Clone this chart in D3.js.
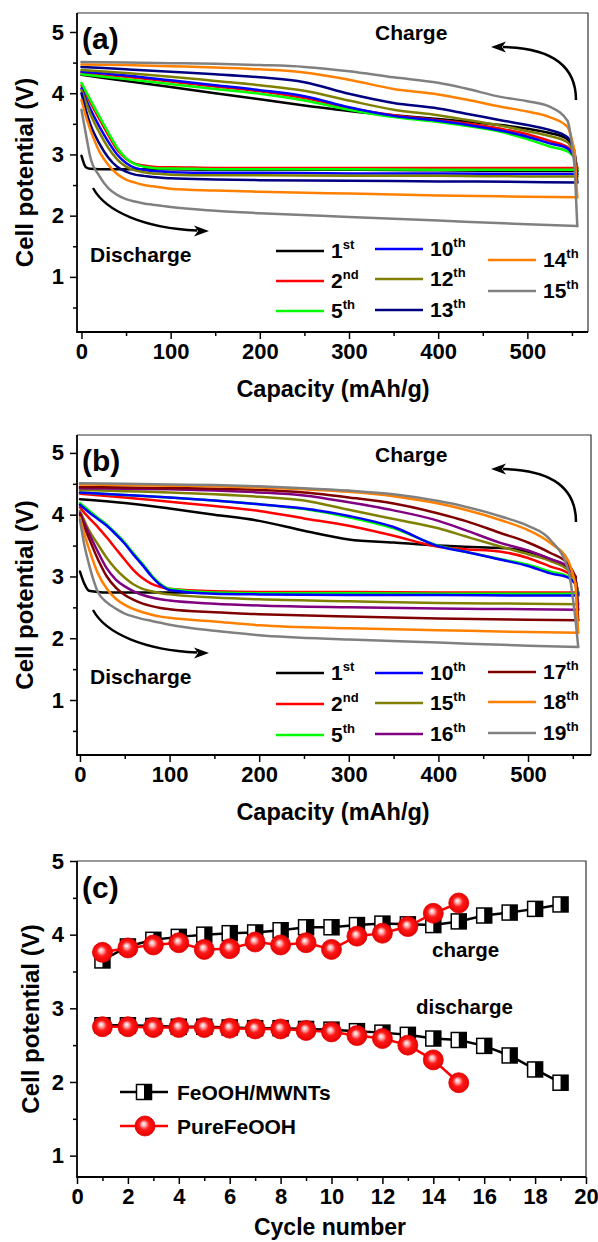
<!DOCTYPE html>
<html><head><meta charset="utf-8">
<script src="https://cdn.jsdelivr.net/npm/d3@7/dist/d3.min.js"></script>
<style>
body{margin:0;background:#fff}
svg{display:block}
</style>
</head><body>
<script>
// ---------------- DATA ----------------
// capacity grids (mAh/g)
const capDischarge = [0,5,10,20,30,40,50,60,70,80,90,100,150,200,300,400,500,556];
const capCharge = [553,545,525,500,470,430,400,350,300,250,200,150,100,50,0];

// panel (a)
const cyclesA = ["1st","2nd","5th","10th","12th","13th","14th","15th"];
const dischargeA = [
  [2.98,2.79,2.765,2.76,2.76,2.76,2.76,2.76,2.76,2.76,2.76,2.76,2.75,2.75,2.75,2.74,2.73,2.73],
  [4.13,3.99,3.85,3.58,3.32,3.08,2.93,2.85,2.82,2.80,2.79,2.79,2.78,2.78,2.78,2.78,2.78,2.78],
  [4.17,4.03,3.89,3.62,3.36,3.11,2.94,2.84,2.80,2.78,2.77,2.77,2.76,2.76,2.76,2.75,2.75,2.75],
  [4.08,3.90,3.74,3.46,3.21,3.00,2.86,2.78,2.75,2.73,2.72,2.71,2.70,2.70,2.69,2.69,2.68,2.68],
  [4.05,3.85,3.66,3.36,3.11,2.92,2.80,2.74,2.71,2.69,2.68,2.67,2.66,2.66,2.65,2.65,2.64,2.64],
  [4.00,3.72,3.49,3.18,2.95,2.80,2.72,2.67,2.65,2.63,2.62,2.61,2.59,2.58,2.57,2.56,2.55,2.54],
  [3.89,3.62,3.40,3.05,2.83,2.68,2.59,2.54,2.50,2.48,2.46,2.44,2.41,2.39,2.36,2.33,2.31,2.30],
  [3.73,3.33,2.95,2.65,2.45,2.34,2.27,2.23,2.20,2.18,2.16,2.14,2.08,2.04,1.98,1.92,1.86,1.83]
];
const chargeA = [
  [3.00,3.25,3.35,3.42,3.48,3.54,3.58,3.64,3.71,3.80,3.90,4.00,4.10,4.20,4.30],
  [2.98,3.12,3.22,3.33,3.42,3.51,3.56,3.64,3.76,3.92,4.03,4.11,4.19,4.27,4.34],
  [2.95,3.05,3.13,3.25,3.37,3.47,3.53,3.61,3.73,3.88,3.99,4.07,4.15,4.23,4.31],
  [2.95,3.10,3.18,3.29,3.39,3.49,3.55,3.63,3.77,3.95,4.05,4.13,4.21,4.29,4.35],
  [3.00,3.20,3.30,3.38,3.47,3.57,3.64,3.73,3.88,4.04,4.13,4.20,4.27,4.33,4.38],
  [3.05,3.28,3.40,3.48,3.56,3.67,3.75,3.84,3.99,4.18,4.26,4.31,4.35,4.39,4.43],
  [3.05,3.45,3.61,3.70,3.78,3.90,3.98,4.07,4.22,4.34,4.39,4.42,4.44,4.46,4.47],
  [2.80,3.55,3.78,3.87,3.94,4.08,4.17,4.26,4.36,4.43,4.46,4.48,4.49,4.50,4.51]
];

// panel (b)
const cyclesB = ["1st","2nd","5th","10th","15th","16th","17th","18th","19th"];
const dischargeB = [
  [3.08,2.88,2.77,2.75,2.74,2.74,2.74,2.74,2.74,2.74,2.74,2.74,2.74,2.73,2.73,2.73,2.72,2.72],
  [4.12,4.03,3.95,3.80,3.63,3.45,3.27,3.10,2.97,2.88,2.83,2.80,2.76,2.75,2.75,2.74,2.74,2.74],
  [4.19,4.13,4.07,3.95,3.84,3.70,3.55,3.37,3.20,3.02,2.88,2.80,2.74,2.73,2.73,2.72,2.72,2.72],
  [4.16,4.10,4.04,3.93,3.82,3.68,3.53,3.35,3.18,3.00,2.86,2.78,2.72,2.71,2.70,2.70,2.69,2.69],
  [4.06,3.90,3.75,3.52,3.30,3.12,2.98,2.87,2.80,2.76,2.73,2.71,2.66,2.63,2.60,2.57,2.56,2.55],
  [4.03,3.86,3.70,3.40,3.13,2.95,2.84,2.76,2.70,2.66,2.63,2.61,2.56,2.53,2.50,2.48,2.47,2.46],
  [4.00,3.80,3.62,3.28,3.00,2.82,2.70,2.62,2.56,2.52,2.49,2.47,2.42,2.39,2.35,2.32,2.30,2.29],
  [3.95,3.68,3.45,3.05,2.80,2.64,2.54,2.47,2.42,2.38,2.35,2.33,2.27,2.21,2.16,2.13,2.10,2.09],
  [3.92,3.50,3.20,2.75,2.58,2.48,2.40,2.35,2.31,2.28,2.25,2.22,2.12,2.05,1.98,1.93,1.88,1.86]
];
const chargeB = [
  [2.95,3.12,3.28,3.40,3.46,3.48,3.50,3.55,3.60,3.74,3.90,4.00,4.10,4.19,4.25],
  [2.92,3.05,3.16,3.30,3.40,3.44,3.48,3.66,3.82,3.94,4.06,4.14,4.21,4.28,4.34],
  [2.90,3.00,3.08,3.19,3.28,3.40,3.50,3.78,3.96,4.09,4.17,4.23,4.28,4.32,4.36],
  [2.88,2.98,3.05,3.17,3.27,3.40,3.49,3.80,3.98,4.10,4.17,4.23,4.28,4.32,4.36],
  [2.95,3.10,3.25,3.36,3.48,3.65,3.78,3.93,4.08,4.23,4.29,4.33,4.36,4.38,4.40],
  [2.98,3.15,3.28,3.42,3.54,3.75,3.90,4.07,4.20,4.31,4.36,4.39,4.41,4.42,4.43],
  [3.00,3.20,3.38,3.55,3.70,3.90,4.02,4.18,4.28,4.36,4.40,4.42,4.43,4.44,4.45],
  [2.88,3.25,3.54,3.75,3.91,4.08,4.18,4.30,4.37,4.41,4.44,4.46,4.47,4.48,4.49],
  [2.30,3.10,3.59,3.82,3.97,4.13,4.22,4.33,4.39,4.43,4.46,4.48,4.49,4.50,4.51]
];

// panel (c)
const cycleNumbers = [1,2,3,4,5,6,7,8,9,10,11,12,13,14,15,16,17,18,19];
const mwntCharge = [3.65,3.84,3.93,3.97,4.00,4.02,4.03,4.06,4.10,4.10,4.13,4.15,4.14,4.13,4.18,4.26,4.30,4.35,4.41];
const mwntDischarge = [2.77,2.77,2.76,2.75,2.75,2.74,2.73,2.73,2.72,2.71,2.69,2.67,2.64,2.59,2.57,2.49,2.36,2.17,1.99];
const pureCharge = [3.76,3.82,3.86,3.89,3.80,3.81,3.90,3.86,3.89,3.80,3.98,4.02,4.11,4.29,4.43];
const pureDischarge = [2.75,2.75,2.74,2.74,2.74,2.73,2.72,2.72,2.70,2.68,2.63,2.59,2.50,2.30,1.99];
const seriesC = ["FeOOH/MWNTs","PureFeOOH"];

// tick values
const capTicks = [0,100,200,300,400,500];
const capMinor = [50,150,250,350,450,550];
const voltTicks = [1,2,3,4,5];
const voltMinor = [0.5,1.5,2.5,3.5,4.5];
const cycleTicks = [0,2,4,6,8,10,12,14,16,18,20];
const cycleMinor = [1,3,5,7,9,11,13,15,17,19];

// ---------------- STYLE ----------------
const colorsA = ["#000000","#ff0000","#00ff00","#0000ff","#808000","#000080","#ff8000","#808080"];
const colorsB = ["#000000","#ff0000","#00ff00","#0000ff","#808000","#800080","#800000","#ff8000","#808080"];
const FONT = '"Liberation Sans", Arial, Helvetica, sans-serif';

const svg = d3.select("body").append("svg").attr("width",598).attr("height",1242);
const defs = svg.append("defs");
const grad = defs.append("radialGradient").attr("id","ball")
  .attr("cx","0.5").attr("cy","0.5").attr("r","0.5").attr("fx","0.42").attr("fy","0.38");
grad.append("stop").attr("offset","0").attr("stop-color","#ffffff");
grad.append("stop").attr("offset","0.22").attr("stop-color","#ffb0b0");
grad.append("stop").attr("offset","0.5").attr("stop-color","#ff1a1a");
grad.append("stop").attr("offset","1").attr("stop-color","#e60000");

function txt(g, x, y, s, size, anchor){
  return g.append("text").attr("x",x).attr("y",y)
    .attr("font-family",FONT).attr("font-weight","bold").attr("font-size",size)
    .attr("fill","#000").attr("text-anchor",anchor||"start").text(s);
}

function axes(g, x, y, o){
  const bottom = y.range()[0], left = x.range()[0];
  const gx = g.append("g").attr("transform",`translate(0,${bottom})`);
  gx.append("g").call(d3.axisBottom(x).tickValues(o.xMinor).tickSize(4).tickFormat(""));
  gx.append("g").call(d3.axisBottom(x).tickValues(o.xMajor).tickSize(7).tickPadding(4).tickFormat(d3.format("d")));
  const gy = g.append("g").attr("transform",`translate(${left},0)`);
  gy.append("g").call(d3.axisLeft(y).tickValues(o.yMinor).tickSize(4).tickFormat(""));
  gy.append("g").call(d3.axisLeft(y).tickValues(o.yMajor).tickSize(7).tickPadding(6).tickFormat(d3.format("d")));
  g.selectAll(".domain").remove();
  g.selectAll(".tick line").attr("stroke","#000").attr("stroke-width",1.5);
  g.selectAll(".tick text").attr("font-family",FONT).attr("font-weight","bold")
    .attr("font-size",22).attr("fill","#000");
}

function frame(g, x, y){
  const [x0,x1] = x.range(), [y0,y1] = y.range();
  // top / right thinner, left / bottom axes heavier
  g.append("path").attr("d",`M${x0},${y1}H${x1}V${y0}`).attr("fill","none")
    .attr("stroke","#333").attr("stroke-width",1.2);
  g.append("path").attr("d",`M${x0},${y1}V${y0}H${x1}`).attr("fill","none")
    .attr("stroke","#000").attr("stroke-width",1.8);
}

function yLabel(g, cx, cy){
  g.append("text").attr("transform",`translate(${cx},${cy}) rotate(-90)`)
    .attr("font-family",FONT).attr("font-weight","bold").attr("font-size",24)
    .attr("fill","#000").attr("text-anchor","middle").text("Cell potential (V)");
}

function arrowHead(g, tx, ty, dir){
  const L = 15, Wd = 5.5, n = 4;
  const p = [[tx,ty],[tx-dir*L,ty-Wd],[tx-dir*(L-n),ty],[tx-dir*L,ty+Wd]];
  g.append("path").attr("d","M"+p.map(d=>d.join(",")).join("L")+"Z").attr("fill","#000");
}

function capacityPanel(o){
  const g = svg.append("g");
  const x = d3.scaleLinear().domain(o.xd).range(o.xr);
  const y = d3.scaleLinear().domain(o.yd).range(o.yr);
  const smooth = d3.line().x(d=>x(d[0])).y(d=>y(d[1])).curve(d3.curveMonotoneX);
  const straight = d3.line().x(d=>x(d[0])).y(d=>y(d[1]));
  axes(g, x, y, {xMajor:capTicks, xMinor:capMinor, yMajor:voltTicks, yMinor:voltMinor});
  o.cycles.forEach((c,i)=>{
    const dis = capDischarge.map((cap,j)=>[cap,o.dis[i][j]]);
    const chg = capCharge.map((cap,j)=>[cap,o.chg[i][j]]);
    const chgAsc = chg.slice().reverse();
    const cg = g.append("g").attr("fill","none").attr("stroke",o.colors[i])
      .attr("stroke-width",2.5).attr("stroke-linejoin","round").attr("stroke-linecap","round");
    cg.append("path").attr("d",smooth(dis));
    cg.append("path").attr("d",straight([dis[dis.length-1], chg[0]]));
    cg.append("path").attr("d",smooth(chgAsc));
  });
  frame(g, x, y);
  const top = o.yr[1];
  txt(g, 82, top+36, o.letter, 30);
  txt(g, 375, top+27, "Charge", 21);
  g.append("path").attr("d",`M576,${top+87} C576,${top+53} 552,${top+35} 503,${top+34}`)
    .attr("fill","none").attr("stroke","#000").attr("stroke-width",2.5);
  arrowHead(g, 491, top+34, -1);
  txt(g, 90, top+249, "Discharge", 21);
  g.append("path").attr("d",`M93,${top+175} C106,${top+199} 145,${top+215} 197,${top+217.5}`)
    .attr("fill","none").attr("stroke","#000").attr("stroke-width",2.5);
  arrowHead(g, 209, top+218, 1);
  o.cycles.forEach((c,i)=>{
    const [lx,ly] = o.legendPos[i];
    g.append("line").attr("x1",lx).attr("x2",lx+48).attr("y1",ly).attr("y2",ly)
      .attr("stroke",o.colors[i]).attr("stroke-width",2.5);
    const m = c.match(/^(\d+)(\D+)$/);
    const t = txt(g, lx+55, ly+7, "", 21);
    t.append("tspan").text(m[1]);
    t.append("tspan").attr("dy",-9).attr("font-size",13).text(m[2]);
  });
  txt(g, 333, o.yr[0]+65, "Capacity (mAh/g)", 23.5, "middle");
  yLabel(g, 33, (o.yr[0]+o.yr[1])/2);
}

// ---------------- PANEL (a) ----------------
capacityPanel({
  letter:"(a)", cycles:cyclesA, dis:dischargeA, chg:chargeA, colors:colorsA,
  xd:[-5,568], xr:[77,588], yd:[0.1,5.31], yr:[332,13],
  legendPos:[[276,251],[276,281],[276,311],[375,249],[375,279],[375,310],[488,260],[488,291]]
});

// ---------------- PANEL (b) ----------------
capacityPanel({
  letter:"(b)", cycles:cyclesB, dis:dischargeB, chg:chargeB, colors:colorsB,
  xd:[-3.3,570.3], xr:[77,591], yd:[0.11,5.29], yr:[755,435],
  legendPos:[[276,673],[276,704],[276,735],[375,673],[375,703],[375,734],[488,672],[488,702],[488,733]]
});

// ---------------- PANEL (c) ----------------
(function(){
  const g = svg.append("g");
  const x = d3.scaleLinear().domain([0,20]).range([77,586]);
  const y = d3.scaleLinear().domain([0.71,5]).range([1177,861]);
  axes(g, x, y, {xMajor:cycleTicks, xMinor:cycleMinor, yMajor:voltTicks, yMinor:voltMinor});
  const lineC = d3.line().x(d=>x(d[0])).y(d=>y(d[1]));
  const S = 15;
  function squareMark(sel){
    sel.append("rect").attr("x",-S/2).attr("y",-S/2).attr("width",S).attr("height",S).attr("fill","#fff");
    sel.append("rect").attr("x",0).attr("y",-S/2).attr("width",S/2).attr("height",S).attr("fill","#000");
    sel.append("rect").attr("x",-S/2).attr("y",-S/2).attr("width",S).attr("height",S)
      .attr("fill","none").attr("stroke","#000").attr("stroke-width",1.5);
  }
  function squares(vals){
    const pts = vals.map((v,i)=>[cycleNumbers[i],v]);
    g.append("path").attr("d",lineC(pts)).attr("fill","none").attr("stroke","#000").attr("stroke-width",2.5);
    const m = g.append("g").selectAll("g").data(pts).join("g")
      .attr("transform",d=>`translate(${x(d[0])},${y(d[1])})`);
    squareMark(m);
  }
  function balls(vals){
    const pts = vals.map((v,i)=>[cycleNumbers[i],v]);
    g.append("path").attr("d",lineC(pts)).attr("fill","none").attr("stroke","#ff0000").attr("stroke-width",2.5);
    g.append("g").selectAll("circle").data(pts).join("circle")
      .attr("cx",d=>x(d[0])).attr("cy",d=>y(d[1])).attr("r",10)
      .attr("fill","url(#ball)").attr("stroke","#e00000").attr("stroke-width",0.8);
  }
  squares(mwntCharge);
  squares(mwntDischarge);
  balls(pureCharge);
  balls(pureDischarge);
  frame(g, x, y);
  txt(g, 82, 898, "(c)", 30);
  txt(g, 432, 957, "charge", 20.5);
  txt(g, 416, 1014, "discharge", 20.5);
  // legend
  g.append("line").attr("x1",120).attr("x2",168).attr("y1",1092).attr("y2",1092).attr("stroke","#000").attr("stroke-width",2.5);
  squareMark(g.append("g").attr("transform","translate(144,1092)"));
  txt(g, 177, 1100, seriesC[0], 21);
  g.append("line").attr("x1",120).attr("x2",168).attr("y1",1126).attr("y2",1126).attr("stroke","#ff0000").attr("stroke-width",2.5);
  g.append("circle").attr("cx",145).attr("cy",1126).attr("r",10).attr("fill","url(#ball)").attr("stroke","#e00000").attr("stroke-width",0.8);
  txt(g, 177, 1134, seriesC[1], 21);
  txt(g, 330, 1235, "Cycle number", 23, "middle");
  yLabel(g, 39, 1019);
})();
</script>
</body></html>
